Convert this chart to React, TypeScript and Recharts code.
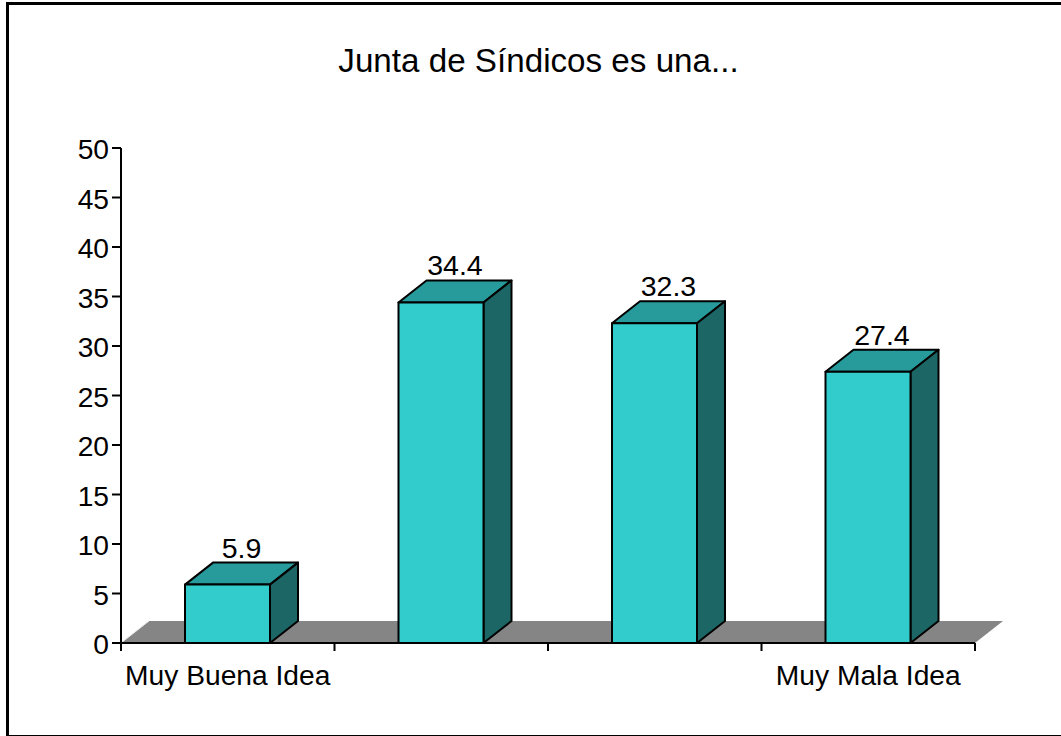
import { BarChart, Bar, XAxis, YAxis, LabelList, usePlotArea } from 'recharts'

const categories = ['Muy Buena Idea', '', '', 'Muy Mala Idea']
const values = [5.9, 34.4, 32.3, 27.4]
const yTicks = [0, 5, 10, 15, 20, 25, 30, 35, 40, 45, 50]
const edgeTicks = [0, 1, 2, 3, 4]

const chartData = categories.map((name, i) => ({ key: i, name, value: values[i] }))

const FONT = '"Liberation Sans", Arial, sans-serif'
const DEPTH_X = 28
const DEPTH_Y = 22

// grey floor the bars stand on
function Floor() {
  const area = usePlotArea()
  if (!area) return null
  const left = area.x
  const right = area.x + area.width
  const base = area.y + area.height
  const top = base - DEPTH_Y
  return (
    <g>
      <polygon
        points={`${left},${base} ${left + DEPTH_X},${top} ${right + DEPTH_X},${top} ${right},${base}`}
        fill="#858585"
      />
      <line x1={left} y1={base} x2={left + DEPTH_X} y2={top} stroke="#e8e8e8" strokeWidth={1} />
    </g>
  )
}

function Bar3D(props: any) {
  const { x, y, width, height } = props
  const r = x + width
  const b = y + height
  return (
    <g stroke="#000" strokeWidth={2} strokeLinejoin="round">
      <polygon
        points={`${x},${y} ${x + DEPTH_X},${y - DEPTH_Y} ${r + DEPTH_X},${y - DEPTH_Y} ${r},${y}`}
        fill="#279b9b"
      />
      <polygon
        points={`${r},${y} ${r + DEPTH_X},${y - DEPTH_Y} ${r + DEPTH_X},${b - DEPTH_Y} ${r},${b}`}
        fill="#1c6666"
      />
      <rect x={x} y={y} width={width} height={height} fill="#33cccc" />
    </g>
  )
}

function ValueLabel(props: any) {
  const { x, y, width, value } = props
  return (
    <text
      x={x + width / 2 + DEPTH_X / 2}
      y={y - DEPTH_Y - 5}
      textAnchor="middle"
      fontFamily={FONT}
      fontSize={28.5}
      fill="#000"
    >
      {value}
    </text>
  )
}

export default function App() {
  return (
    <div style={{ position: 'absolute', left: 0, top: 0, width: 1061, height: 736, background: '#fff', overflow: 'hidden' }}>
      <div
        style={{
          position: 'absolute',
          left: 6,
          top: 2,
          width: 1100,
          height: 734,
          borderStyle: 'solid',
          borderColor: '#000',
          borderWidth: '3px 0 1px 3px',
          boxSizing: 'border-box',
        }}
      />
      <div
        style={{
          position: 'absolute',
          left: 0,
          width: 1077,
          top: 42,
          textAlign: 'center',
          fontFamily: FONT,
          fontSize: 33.2,
          color: '#000',
          lineHeight: '37px',
        }}
      >
        Junta de Síndicos es una...
      </div>
      <BarChart
        width={1061}
        height={736}
        data={chartData}
        margin={{ top: 148, right: 86, bottom: 0, left: 0 }}
        barSize={85}
        style={{ position: 'absolute', left: 0, top: 0, fontFamily: FONT }}
      >
        <Floor />
        {/* axis 0 sits on the plot and carries the ticks between the bars, axis 1 the labels */}
        <XAxis
          xAxisId={0}
          dataKey="key"
          type="number"
          domain={[0, 4]}
          allowDataOverflow
          ticks={edgeTicks}
          interval={0}
          height={1}
          tickFormatter={() => ''}
          axisLine={{ stroke: '#000', strokeWidth: 2 }}
          tickLine={{ stroke: '#000', strokeWidth: 2 }}
          tickSize={8}
        />
        <XAxis
          xAxisId={1}
          dataKey="key"
          tickFormatter={(i: number) => categories[i]}
          interval={0}
          height={92}
          tickLine={false}
          axisLine={false}
          tick={{ fill: '#000', fontSize: 28.2 }}
          tickMargin={15}
        />
        <YAxis
          width={121}
          domain={[0, 50]}
          ticks={yTicks}
          interval={0}
          axisLine={{ stroke: '#000', strokeWidth: 2 }}
          tickLine={{ stroke: '#000', strokeWidth: 2 }}
          tickSize={9}
          tick={{ fill: '#000', fontSize: 28.2, dy: 1 }}
          tickMargin={3}
        />
        <Bar xAxisId={1} dataKey="value" shape={Bar3D} isAnimationActive={false}>
          <LabelList dataKey="value" content={ValueLabel} />
        </Bar>
      </BarChart>
    </div>
  )
}
